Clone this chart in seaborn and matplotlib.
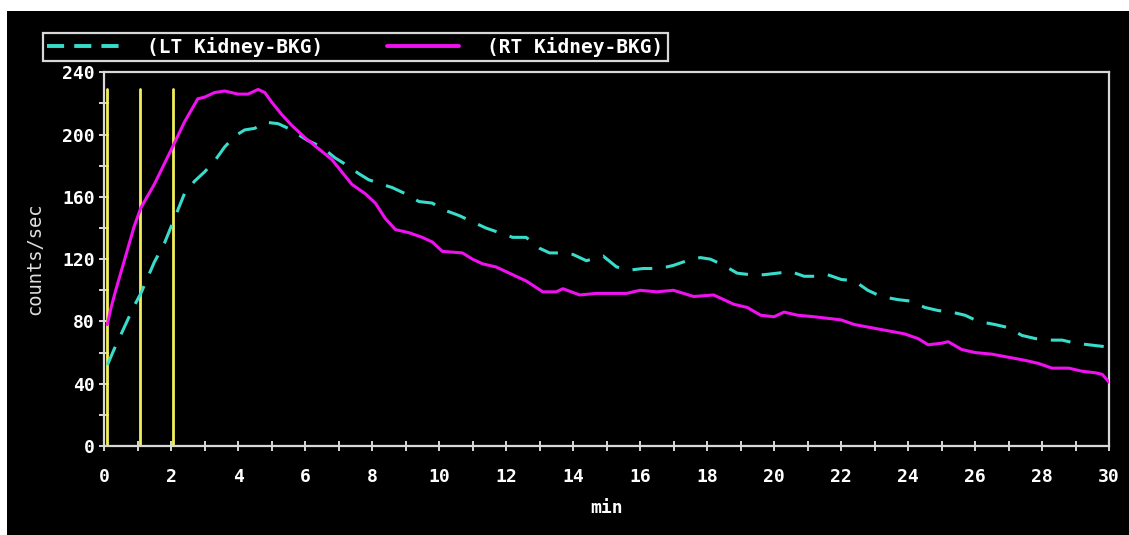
import pandas as pd
import matplotlib.pyplot as plt
import seaborn as sns
from matplotlib.patches import Rectangle
from matplotlib.lines import Line2D
from matplotlib.ticker import MultipleLocator

# renogram curves (minutes, counts/sec)
rt_min = [0.1, 0.2, 0.35, 0.7, 0.9, 1.1, 1.5, 2.0, 2.4, 2.8, 3.0, 3.3, 3.6, 4.0, 4.3, 4.6,
          4.8, 5.0, 5.3, 5.6, 6.0, 6.4, 6.8, 7.1, 7.4, 7.8, 8.1, 8.4, 8.7, 9.1, 9.5, 9.8,
          10.1, 10.7, 11.0, 11.3, 11.7, 12.2, 12.6, 13.1, 13.5, 13.7, 14.2, 14.7, 15.2,
          15.6, 16.0, 16.5, 17.0, 17.3, 17.6, 18.2, 18.5, 18.8, 19.2, 19.6, 20.0, 20.3,
          20.7, 21.2, 21.6, 22.0, 22.4, 22.9, 23.4, 23.9, 24.3, 24.6, 25.0, 25.2, 25.6,
          26.0, 26.5, 27.0, 27.5, 27.9, 28.3, 28.8, 29.2, 29.6, 29.8, 30.0]
rt_cps = [78, 88, 100, 126, 141, 153, 168, 190, 208, 223, 224, 227, 228, 226, 226, 229,
          227, 221, 213, 206, 198, 191, 184, 176, 168, 162, 156, 146, 139, 137, 134, 131,
          125, 124, 120, 117, 115, 110, 106, 99, 99, 101, 97, 98, 98,
          98, 100, 99, 100, 98, 96, 97, 94, 91, 89, 84, 83, 86,
          84, 83, 82, 81, 78, 76, 74, 72, 69, 65, 66, 67, 62,
          60, 59, 57, 55, 53, 50, 50, 48, 47, 46, 41]

lt_min = [0.1, 0.3, 0.6, 0.9, 1.1, 1.5, 1.8, 2.1, 2.4, 2.7, 3.0, 3.3, 3.6, 3.9, 4.2, 4.5,
          4.8, 5.2, 5.5, 5.8, 6.1, 6.5, 6.9, 7.2, 7.6, 7.9, 8.3, 8.6, 9.0, 9.4, 9.8, 10.1,
          10.6, 11.0, 11.4, 11.8, 12.2, 12.6, 13.0, 13.3, 13.7, 14.0, 14.4, 14.9, 15.3,
          15.7, 16.1, 16.6, 17.0, 17.4, 17.8, 18.1, 18.5, 18.9, 19.3, 19.7, 20.1, 20.5,
          20.9, 21.2, 21.6, 22.0, 22.4, 22.8, 23.2, 23.7, 24.1, 24.5, 24.9, 25.3, 25.7,
          26.1, 26.6, 27.0, 27.4, 27.8, 28.2, 28.6, 29.0, 29.4, 29.8, 30.0]
lt_cps = [52, 62, 76, 90, 98, 118, 130, 146, 162, 170, 176, 183, 192, 199, 203, 204,
          208, 207, 204, 200, 196, 192, 185, 181, 175, 171, 168, 166, 162, 157, 156, 152,
          148, 144, 140, 137, 134, 134, 127, 124, 124, 123, 119, 122, 115,
          113, 114, 114, 116, 119, 121, 120, 116, 111, 110, 110, 111, 112,
          109, 109, 110, 107, 106, 100, 96, 94, 93, 89, 87, 86, 84,
          80, 78, 76, 71, 69, 68, 68, 66, 65, 64, 63]

# frame markers (minutes)
markers = [0.08, 1.07, 2.07]
marker_top = 229

labels = ["(LT Kidney-BKG)", "(RT Kidney-BKG)"]

rt = pd.DataFrame({"min": rt_min, "cps": rt_cps})
lt = pd.DataFrame({"min": lt_min, "cps": lt_cps})

sns.set_style("dark")
plt.rcParams['font.family'] = ['DejaVu Sans Mono']

W, H = 1129, 535
fig = plt.figure(figsize=(W / 100, H / 100), dpi=100)
fig.patch.set_facecolor("white")
fig.add_artist(Rectangle((7 / W, 0), 1, (H - 11) / H, transform=fig.transFigure,
                         facecolor="black", edgecolor="none", zorder=-10))

ax = fig.add_axes([104 / W, 1 - 446 / H, (1109 - 104) / W, (446 - 72.3) / H])
ax.set_facecolor("black")

cyan = "#38dccb"
magenta = "#f010f0"
yellow = "#f2ee5a"

for m in markers:
    ax.plot([m, m], [0, marker_top], color=yellow, lw=2, zorder=2)

sns.lineplot(data=lt, x="min", y="cps", ax=ax, color=cyan, lw=2.2,
             linestyle=(0, (6.5, 4.5)), zorder=3)
sns.lineplot(data=rt, x="min", y="cps", ax=ax, color=magenta, lw=2.2, zorder=4)

ax.set_xlim(0, 30)
ax.set_ylim(0, 240)
ax.xaxis.set_major_locator(MultipleLocator(2))
ax.xaxis.set_minor_locator(MultipleLocator(1))
ax.yaxis.set_major_locator(MultipleLocator(40))
ax.yaxis.set_minor_locator(MultipleLocator(20))
ax.grid(False)

spine_c = "#d8d8d8"
for s in ax.spines.values():
    s.set_visible(True)
    s.set_color(spine_c)
    s.set_linewidth(1.6)

ax.tick_params(which="both", direction="inout", length=7, width=1.4, color=spine_c,
               labelcolor="white", labelsize=13)
ax.tick_params(axis="x", which="both", bottom=True, pad=12)
ax.tick_params(axis="y", which="both", left=True, pad=3)
for t in ax.get_xticklabels() + ax.get_yticklabels():
    t.set_fontweight("bold")

ax.set_xlabel("min", color="white", fontsize=13, fontweight="bold")
ax.xaxis.set_label_coords(0.5, -0.142)
ax.set_ylabel("counts/sec", color="#e0e0e0", fontsize=13.5)
ax.yaxis.set_label_coords(-0.0687, 0.5)
ax.yaxis.label.set_va("center")

handles = [Line2D([], [], color=cyan, lw=2.8, linestyle=(0, (4.4, 2.6))),
           Line2D([], [], color=magenta, lw=2.8)]
leg = fig.legend(handles, labels, loc="upper left",
                 bbox_to_anchor=(42.7 / W, 1 - 32.7 / H), borderaxespad=0,
                 ncol=2, handlelength=3.7, handletextpad=1.44,
                 columnspacing=3.3, borderpad=0.22, fancybox=False, framealpha=1,
                 facecolor="black", edgecolor=spine_c,
                 prop={"weight": "bold", "size": 14})
leg.get_frame().set_linewidth(1.6)
for t in leg.get_texts():
    t.set_color("white")

fig.savefig("out.png", dpi=100, facecolor=fig.get_facecolor())
